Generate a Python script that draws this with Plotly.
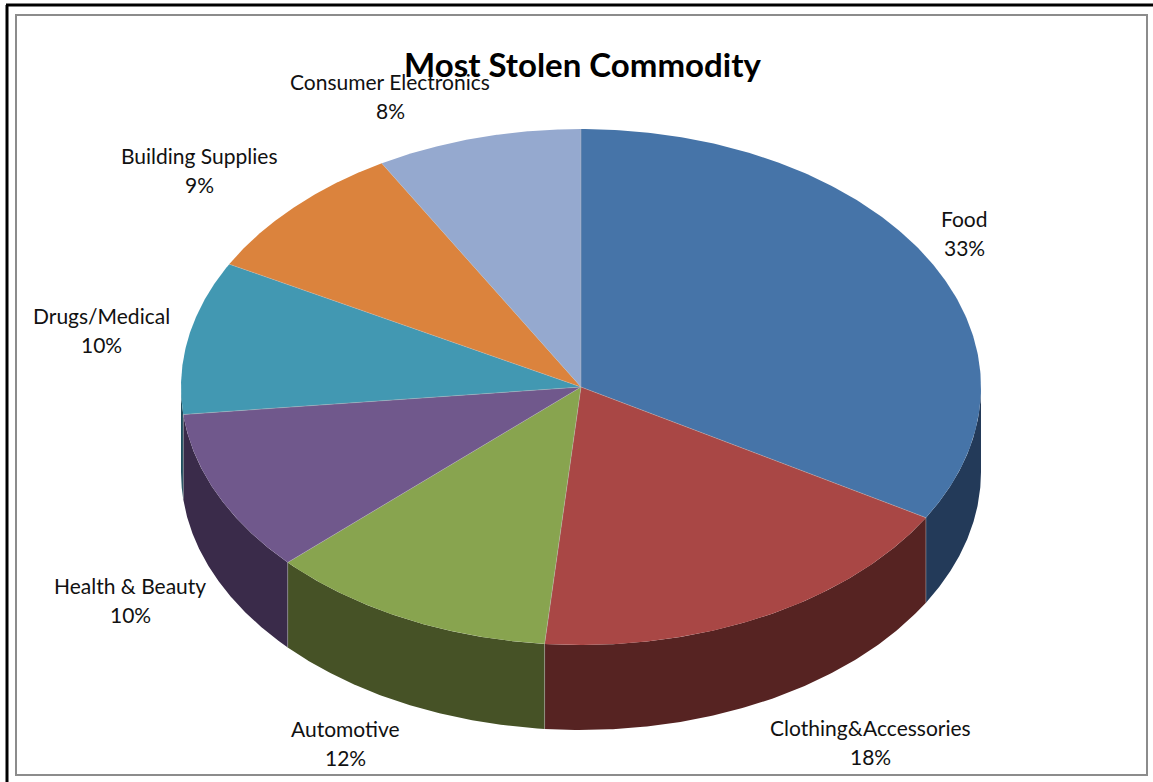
import numpy as np
import plotly.graph_objects as go

# Share of thefts by commodity (percent), clockwise from twelve o'clock
categories = ["Food", "Clothing&Accessories", "Automotive", "Health & Beauty",
              "Drugs/Medical", "Building Supplies", "Consumer Electronics"]
shares = [33.45, 18.0, 11.65, 10.2, 9.6, 8.8, 8.3]
top_colors = ["#4674A8", "#A94745", "#88A44F", "#70588C", "#4298B2", "#DB833D", "#95A9CF"]
wall_colors = ["#233A59", "#562322", "#465226", "#3A2B4A", "#205060", "#7A4520", "#4F5B70"]

# Centre of each label's name line on the page grid; the percent line sits below it
label_x = [964, 870, 345, 130, 101, 199, 390]
label_y = [218, 727, 728, 585, 315, 155, 81]

WIDTH, HEIGHT = 1153, 782
CX, CY, RX, RY, DEPTH = 581, 387, 400, 258, 85
LINE_GAP = 29
FONT = "Lato"


def rim(theta):
    """Point on the tilted pie's upper rim; theta runs clockwise from the top."""
    return CX + RX * np.sin(theta), CY - RY * np.cos(theta)


fig = go.Figure()
edges = np.cumsum([0] + shares) / sum(shares) * 2 * np.pi

# Outer walls: only the part of each slice on the near half of the pie shows
for i in range(len(shares)):
    lo, hi = max(edges[i], np.pi / 2), min(edges[i + 1], 3 * np.pi / 2)
    if hi <= lo:
        continue
    t = np.linspace(lo, hi, 120)
    x, y = rim(t)
    fig.add_trace(go.Scatter(
        x=np.r_[x, x[::-1], x[0]], y=np.r_[y, (y + DEPTH)[::-1], y[0]],
        mode="lines", fill="toself", fillcolor=wall_colors[i],
        line=dict(width=0), hoverinfo="skip", showlegend=False))

# Upper faces
for i, name in enumerate(categories):
    t = np.linspace(edges[i], edges[i + 1], 200)
    x, y = rim(t)
    fig.add_trace(go.Scatter(
        x=np.r_[CX, x, CX], y=np.r_[CY, y, CY],
        mode="lines", fill="toself", fillcolor=top_colors[i],
        line=dict(width=0), name=name, showlegend=False))

# Hairlines between neighbouring slices and down the visible wall seams
for e in edges[:-1]:
    x, y = rim(e)
    xs, ys = [CX, x], [CY, y]
    if np.pi / 2 < e < 3 * np.pi / 2:
        xs, ys = [CX, x, x], [CY, y, y + DEPTH]
    fig.add_trace(go.Scatter(x=xs, y=ys, mode="lines", hoverinfo="skip", showlegend=False,
                             line=dict(width=1, color="rgba(190,190,190,0.4)")))

annotations = [dict(x=582, y=64, text="<b>Most Stolen Commodity</b>", showarrow=False,
                    xref="x", yref="y", font=dict(family=FONT, size=33, color="#000000"))]
for name, share, lx, ly in zip(categories, shares, label_x, label_y):
    annotations.append(dict(x=lx, y=ly, text=name, showarrow=False, xref="x", yref="y",
                            font=dict(family=FONT, size=21, color="#111111")))
    annotations.append(dict(x=lx, y=ly + LINE_GAP, text=f"{share:.0f}%", showarrow=False,
                            xref="x", yref="y",
                            font=dict(family=FONT, size=21, color="#111111")))

frame = [
    # Black outer rule on the left and top
    dict(type="line", x0=7, x1=7, y0=5, y1=HEIGHT, line=dict(color="#000000", width=3)),
    dict(type="line", x0=6, x1=WIDTH, y0=5, y1=5, line=dict(color="#000000", width=3)),
    # Grey chart-area border
    dict(type="rect", x0=16, x1=1147, y0=15, y1=775, line=dict(color="#8C8C8C", width=2)),
]

fig.update_layout(
    width=WIDTH, height=HEIGHT, margin=dict(l=0, r=0, t=0, b=0),
    paper_bgcolor="#FFFFFF", plot_bgcolor="#FFFFFF",
    xaxis=dict(range=[0, WIDTH], visible=False, fixedrange=True),
    yaxis=dict(range=[HEIGHT, 0], visible=False, fixedrange=True),
    shapes=frame, annotations=annotations, showlegend=False,
)
fig.write_html("out.html")
